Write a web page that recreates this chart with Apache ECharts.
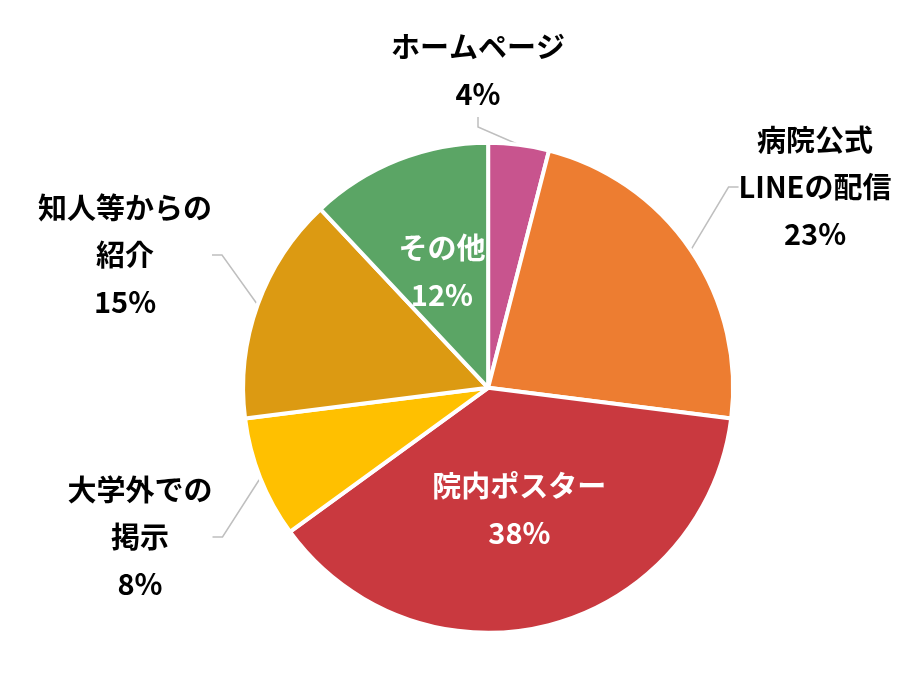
<!DOCTYPE html>
<html><head><meta charset="utf-8">
<script src="https://cdn.jsdelivr.net/npm/echarts@6/dist/echarts.min.js"></script>
<style>html,body{margin:0;background:#fff}#c{width:921px;height:690px}</style>
</head><body><div id="c"></div>
<script>
// 認知経路の割合
var names = ['ホームページ', '病院公式\nLINEの配信', '院内ポスター', '大学外での\n掲示', '知人等からの\n紹介', 'その他'];
var values = [4, 23, 38, 8, 15, 12];
var colors = ['#C8548E', '#ED7D31', '#C9393F', '#FFC000', '#DC9A12', '#5BA565'];
var inside = [false, false, true, false, false, true];
// 外側ラベルの中心位置
var labelPos = [[478, 70], [815, 187], null, [140, 537], [125, 255], null];

var chart = echarts.init(document.getElementById('c'));
var data = names.map(function (n, i) {
    var d = { name: n, value: values[i], itemStyle: { color: colors[i] } };
    if (inside[i]) {
        d.label = { position: 'inside', color: '#fff' };
        d.labelLine = { show: false };
    }
    return d;
});
chart.setOption({
    backgroundColor: '#ffffff',
    series: [{
        type: 'pie',
        center: ['53%', '56.2%'],
        radius: 245,
        startAngle: 90,
        clockwise: true,
        itemStyle: { borderColor: '#fff', borderWidth: 4 },
        label: {
            formatter: '{b}\n{c}%',
            fontFamily: 'Noto Sans CJK JP',
            fontWeight: 'bold',
            fontSize: 29,
            lineHeight: 47,
            color: '#000',
            align: 'center'
        },
        labelLine: { length: 15, length2: 10, lineStyle: { color: '#bfbfbf', width: 1.5 } },
        labelLayout: function (p) {
            var pos = labelPos[p.dataIndex];
            if (!pos) return {};
            return { x: pos[0], y: pos[1], align: 'center', verticalAlign: 'middle' };
        },
        data: data
    }]
});
</script></body></html>
